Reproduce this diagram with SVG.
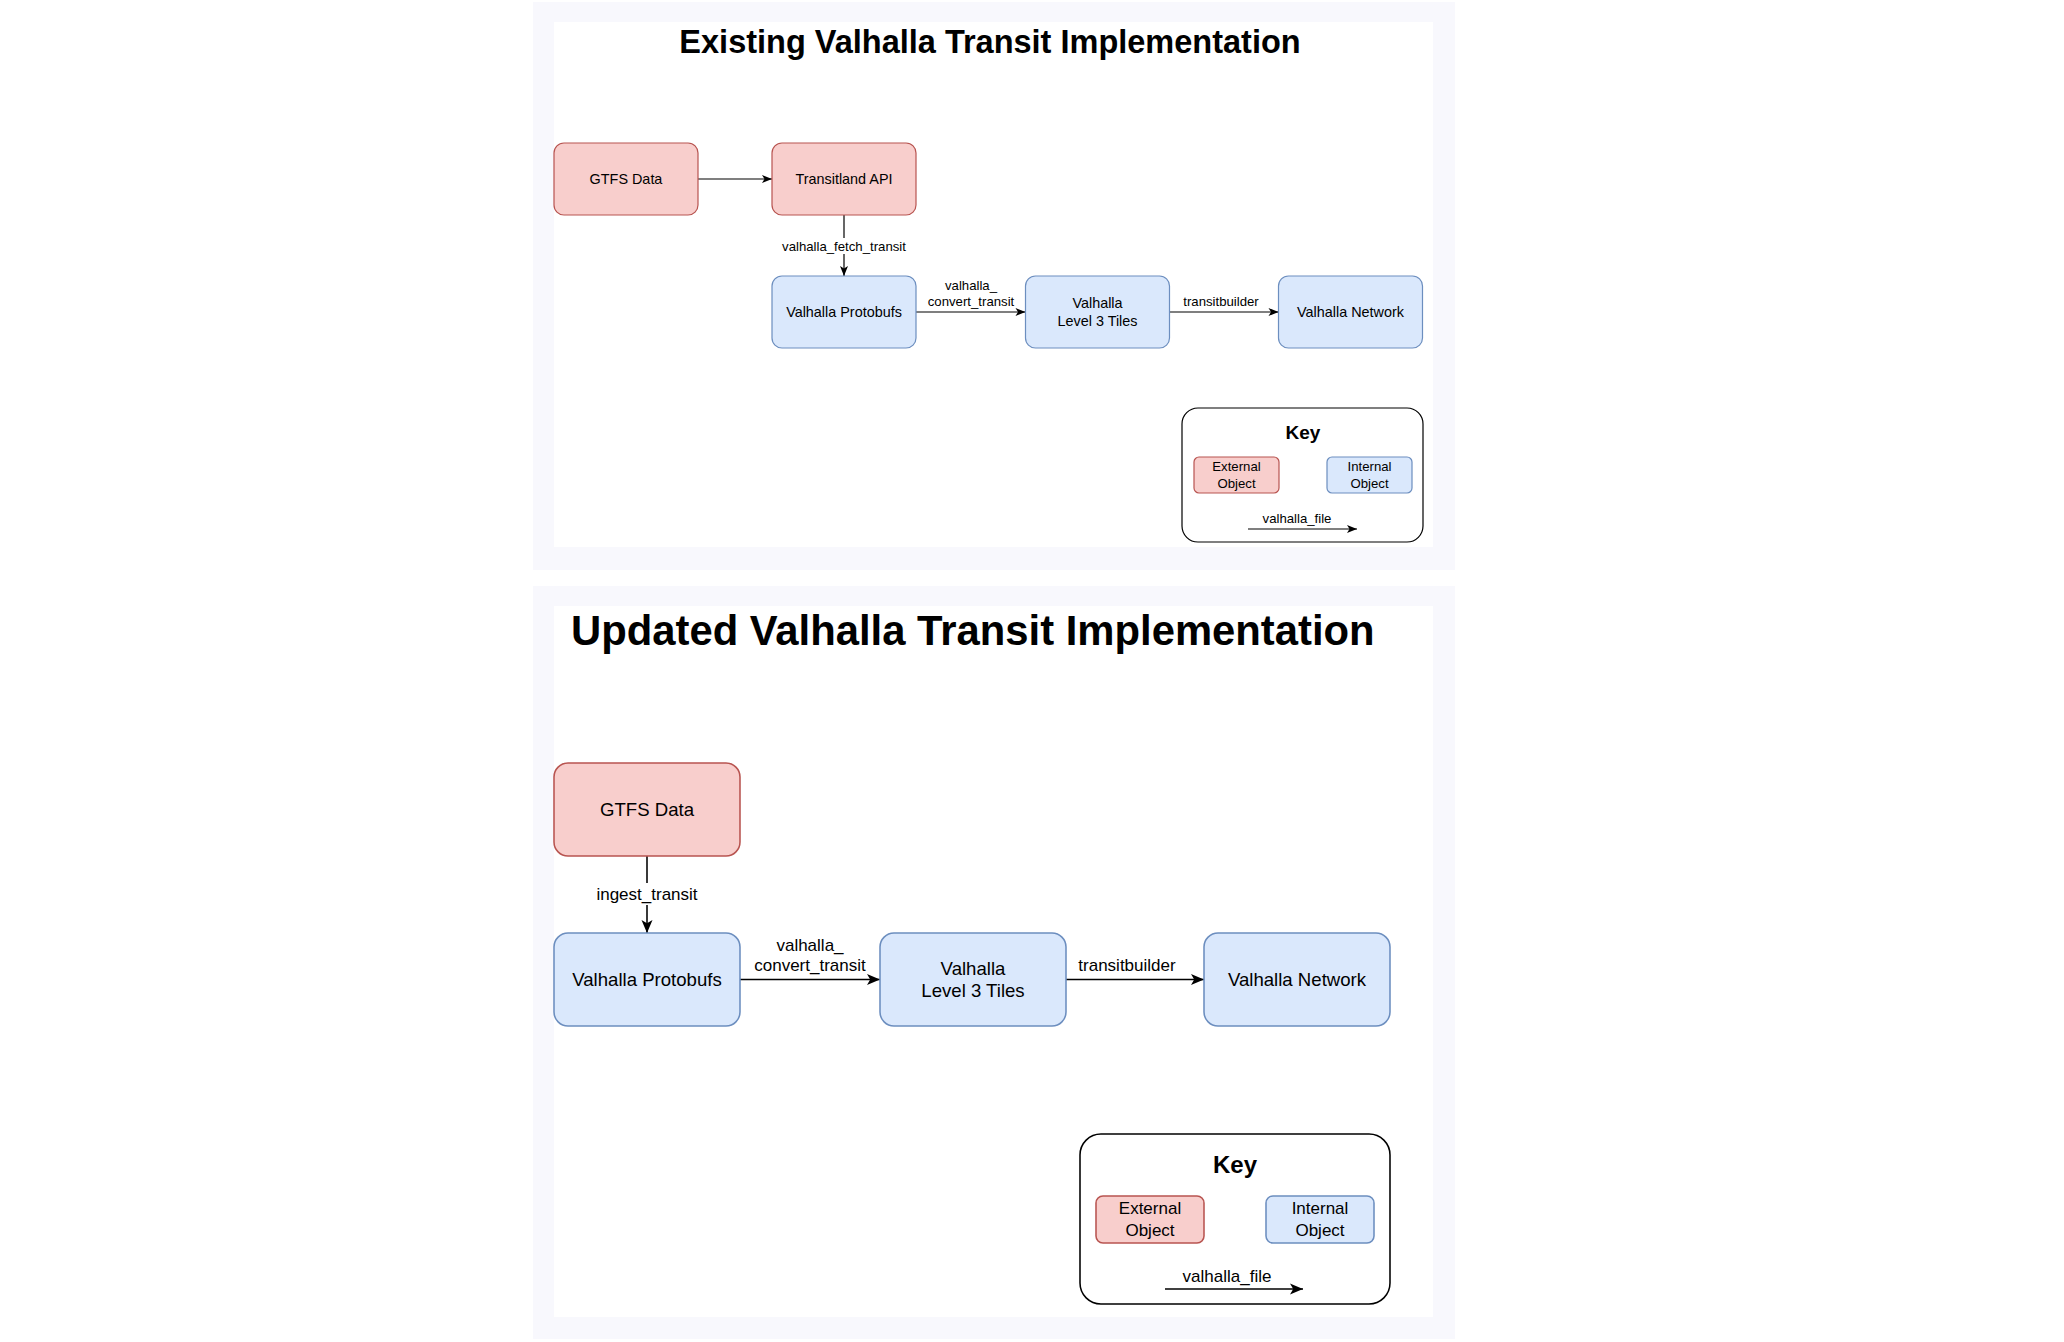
<svg xmlns="http://www.w3.org/2000/svg" width="2064" height="1342" viewBox="0 0 2064 1342">
<style>
text{font-family:"Liberation Sans",Arial,Helvetica,sans-serif;fill:#000;text-anchor:middle;dominant-baseline:central}
.panel{fill:#f8f8fd}
.inner{fill:#fff}
.ext{fill:#f8cecc;stroke:#b85450}
.int{fill:#dae8fc;stroke:#6c8ebf}
.key{fill:#fff;stroke:#000}
.s1{stroke-width:1.2}
.s2{stroke-width:1.55}
.e1{stroke:#000;stroke-width:1.2;fill:none;marker-end:url(#a1)}
.e2{stroke:#000;stroke-width:1.55;fill:none;marker-end:url(#a2)}
.t1{font-size:14.4px}
.t2{font-size:18.6px}
.l1{font-size:13.2px}
.l2{font-size:17px}
.b{font-weight:bold}
</style>
<defs>
<marker id="a1" markerUnits="userSpaceOnUse" markerWidth="10" markerHeight="8" refX="10" refY="4" orient="auto" overflow="visible"><path d="M0,0 L10,4 L0,8 L2.5,4 Z" fill="#000"/></marker>
<marker id="a2" markerUnits="userSpaceOnUse" markerWidth="13" markerHeight="11" refX="13" refY="5.5" orient="auto" overflow="visible"><path d="M0,0 L13,5.5 L0,11 L3.2,5.5 Z" fill="#000"/></marker>
</defs>

<g id="panel-existing">
<rect class="panel" x="533" y="2" width="922" height="568"/>
<rect class="inner" x="554" y="22" width="879" height="525"/>
<text class="b" x="990" y="53" style="font-size:32.5px;dominant-baseline:alphabetic">Existing Valhalla Transit Implementation</text>
</g>

<g id="panel-updated">
<rect class="panel" x="533" y="586" width="922" height="753"/>
<rect class="inner" x="554" y="606" width="879" height="711"/>
<text class="b" x="571" y="645" style="font-size:41.8px;text-anchor:start;dominant-baseline:alphabetic">Updated Valhalla Transit Implementation</text>
</g>

<g id="connectors">
<path class="e1" d="M698,179 L772,179"/>
<path class="e1" d="M844,215 L844,276"/>
<rect x="780" y="238" width="128" height="16" fill="#fff"/>
<text class="l1" x="844" y="246">valhalla_fetch_transit</text>
<path class="e1" d="M916,312 L1025.5,312"/>
<text class="l1" x="971" y="285">valhalla_</text>
<text class="l1" x="971" y="301.5">convert_transit</text>
<path class="e1" d="M1169.5,312 L1278.5,312"/>
<text class="l1" x="1221" y="301.5">transitbuilder</text>

<path class="e2" d="M647,856 L647,933"/>
<rect x="594" y="883" width="106" height="22" fill="#fff"/>
<text class="l2" x="647" y="894">ingest_transit</text>
<path class="e2" d="M740,979.5 L880,979.5"/>
<text class="l2" x="810" y="945">valhalla_</text>
<text class="l2" x="810" y="965">convert_transit</text>
<path class="e2" d="M1066,979.5 L1204,979.5"/>
<text class="l2" x="1127" y="965">transitbuilder</text>
</g>

<g id="top-gtfs">
<rect class="ext s1" x="554" y="143" width="144" height="72" rx="10"/>
<text class="t1" x="626" y="179">GTFS Data</text>
</g>
<g id="top-transitland">
<rect class="ext s1" x="772" y="143" width="144" height="72" rx="10"/>
<text class="t1" x="844" y="179">Transitland API</text>
</g>
<g id="top-protobufs">
<rect class="int s1" x="772" y="276" width="144" height="72" rx="10"/>
<text class="t1" x="844" y="312">Valhalla Protobufs</text>
</g>
<g id="top-tiles">
<rect class="int s1" x="1025.5" y="276" width="144" height="72" rx="10"/>
<text class="t1" x="1097.5" y="303">Valhalla</text>
<text class="t1" x="1097.5" y="321">Level 3 Tiles</text>
</g>
<g id="top-network">
<rect class="int s1" x="1278.5" y="276" width="144" height="72" rx="10"/>
<text class="t1" x="1350.5" y="312">Valhalla Network</text>
</g>

<g id="top-key">
<rect class="key s1" x="1182" y="408" width="241" height="134" rx="16"/>
<text class="b" x="1303" y="439" style="font-size:19px;dominant-baseline:alphabetic">Key</text>
<rect class="ext s1" x="1194" y="457" width="85" height="36" rx="5"/>
<text class="l1" x="1236.5" y="466">External</text>
<text class="l1" x="1236.5" y="483">Object</text>
<rect class="int s1" x="1327" y="457" width="85" height="36" rx="5"/>
<text class="l1" x="1369.5" y="466">Internal</text>
<text class="l1" x="1369.5" y="483">Object</text>
<path class="e1" d="M1248,529 L1357,529"/>
<text class="l1" x="1297" y="518">valhalla_file</text>
</g>

<g id="bottom-gtfs">
<rect class="ext s2" x="554" y="763" width="186" height="93" rx="14"/>
<text class="t2" x="647" y="809.5">GTFS Data</text>
</g>
<g id="bottom-protobufs">
<rect class="int s2" x="554" y="933" width="186" height="93" rx="14"/>
<text class="t2" x="647" y="979.5">Valhalla Protobufs</text>
</g>
<g id="bottom-tiles">
<rect class="int s2" x="880" y="933" width="186" height="93" rx="14"/>
<text class="t2" x="973" y="968">Valhalla</text>
<text class="t2" x="973" y="990">Level 3 Tiles</text>
</g>
<g id="bottom-network">
<rect class="int s2" x="1204" y="933" width="186" height="93" rx="14"/>
<text class="t2" x="1297" y="979.5">Valhalla Network</text>
</g>

<g id="bottom-key">
<rect class="key s2" x="1080" y="1134" width="310" height="170" rx="21"/>
<text class="b" x="1235" y="1173" style="font-size:24px;dominant-baseline:alphabetic">Key</text>
<rect class="ext s2" x="1096" y="1196" width="108" height="47" rx="7"/>
<text class="l2" x="1150" y="1208.5">External</text>
<text class="l2" x="1150" y="1230">Object</text>
<rect class="int s2" x="1266" y="1196" width="108" height="47" rx="7"/>
<text class="l2" x="1320" y="1208.5">Internal</text>
<text class="l2" x="1320" y="1230">Object</text>
<path class="e2" d="M1165,1289 L1303,1289"/>
<text class="l2" x="1227" y="1276">valhalla_file</text>
</g>
</svg>
